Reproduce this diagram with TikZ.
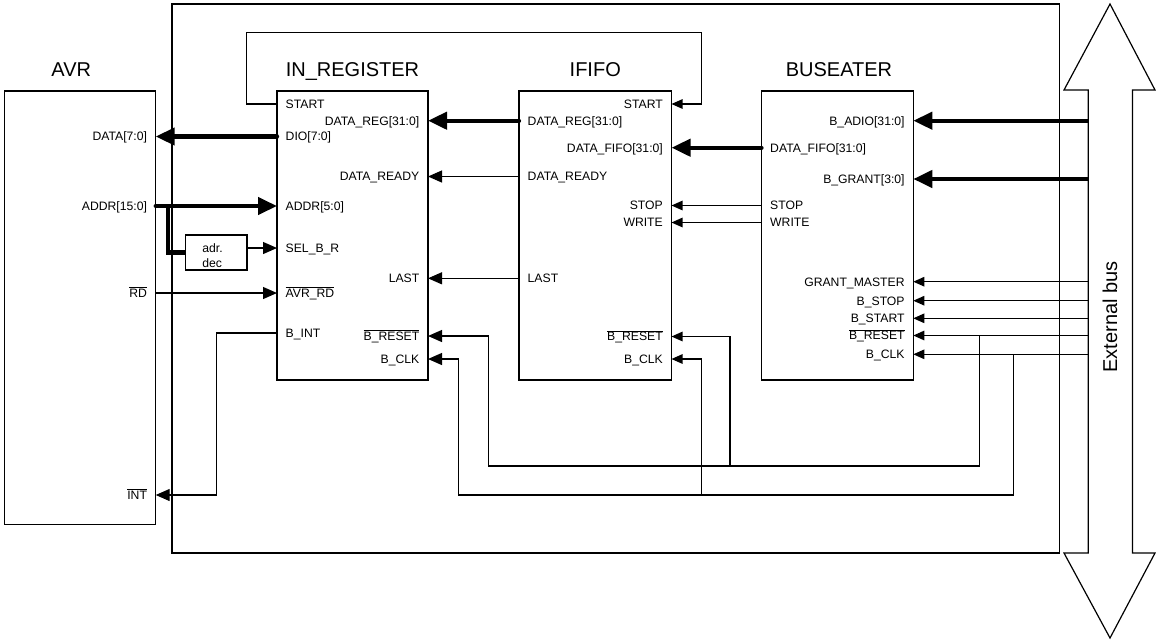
\documentclass[tikz,border=0pt]{standalone}
\usepackage{fontspec}
\setmainfont{Liberation Sans}
\usetikzlibrary{arrows.meta}
\newcommand\myovl[1]{$\overline{\mbox{#1}}$}
\begin{document}
\begin{tikzpicture}[x=1pt,y=-1pt,
  blk/.style={draw, line width=1.2pt, inner sep=0pt, outer sep=0pt},
  ttl/.style={font=\fontsize{20}{24}\selectfont, anchor=base, inner sep=0pt},
  pinbase/.style={font=\fontsize{12.2}{14}\selectfont, inner sep=0pt, text height=8.7pt, text depth=0pt},
  pl/.style={pinbase, anchor=west, xshift=8.5pt},
  pr/.style={pinbase, anchor=east, xshift=-8.5pt},
  wire/.style={line width=1.2pt},
  sa/.style={wire, -{Triangle[length=14pt,width=12pt]}},
  ss/.style={wire, -{Triangle[length=11pt,width=9.5pt]}},
  ba/.style={line width=4.2pt, line cap=round, -{Triangle[length=19pt,width=17pt]}},
  bb/.style={line width=4.2pt, -{Triangle[length=19pt,width=17pt]}},
  bl/.style={line width=4.2pt}
]
\useasboundingbox (0,0) rectangle (1156,641);

% boxes
\node[blk, minimum width=151pt, minimum height=433.3pt] (avr) at (80.2,307.65) {};
\node[blk, minimum width=887.5pt, minimum height=549pt] (outer) at (615.75,278.5) {};
\node[blk, minimum width=151pt, minimum height=289pt] (inreg) at (352.5,235.5) {};
\node[blk, minimum width=152.5pt, minimum height=289pt] (ififo) at (595.25,235.5) {};
\node[blk, minimum width=151.8pt, minimum height=289pt] (busea) at (837.4,235.5) {};
\node[blk, minimum width=61.3pt, minimum height=35pt] (adrdec) at (216.35,252.5) {};
\node[font=\fontsize{12.2}{14.5}\selectfont, align=left, inner sep=0pt] (adrtxt) at (212.5,255.5) {adr.\\dec};

% titles
\node[ttl] (tavr) at (71.3,76.7) {AVR};
\node[ttl] (tir) at (352.5,76.7) {IN\_REGISTER};
\node[ttl] (tif) at (595.25,76.7) {IFIFO};
\node[ttl] (tbe) at (839,76.7) {BUSEATER};

% external bus double arrow
\draw[line width=1.2pt, line join=miter] (1110,4) -- (1155,90) -- (1132.5,90) -- (1132.5,553) -- (1155,553)
  -- (1110,638) -- (1064,553) -- (1088.3,553) -- (1088.3,90) -- (1064,90) -- cycle;
\coordinate (shaftL) at (1088.3,0);
\node[rotate=90, font=\fontsize{20}{24}\selectfont, inner sep=0pt] (extlbl) at (1110,317) {External bus};

% pin coordinates
\coordinate (avr-data) at (avr.east |- 0,136.5);
\coordinate (avr-addr) at (avr.east |- 0,206);
\coordinate (avr-rd) at (avr.east |- 0,293);
\coordinate (avr-int) at (avr.east |- 0,495);

\coordinate (ir-start) at (inreg.west |- 0,104);
\coordinate (ir-dio) at (inreg.west |- 0,136.5);
\coordinate (ir-addr) at (inreg.west |- 0,206);
\coordinate (ir-sel) at (inreg.west |- 0,248);
\coordinate (ir-rd) at (inreg.west |- 0,293);
\coordinate (ir-bint) at (inreg.west |- 0,333);
\coordinate (ir-datareg) at (inreg.east |- 0,120.7);
\coordinate (ir-dready) at (inreg.east |- 0,176.5);
\coordinate (ir-last) at (inreg.east |- 0,278.3);
\coordinate (ir-reset) at (inreg.east |- 0,336);
\coordinate (ir-clk) at (inreg.east |- 0,359);

\coordinate (if-datareg) at (ififo.west |- 0,120.7);
\coordinate (if-dready) at (ififo.west |- 0,176.5);
\coordinate (if-last) at (ififo.west |- 0,278.3);
\coordinate (if-start) at (ififo.east |- 0,104);
\coordinate (if-dfifo) at (ififo.east |- 0,147.7);
\coordinate (if-stop) at (ififo.east |- 0,205.5);
\coordinate (if-write) at (ififo.east |- 0,222.5);
\coordinate (if-reset) at (ififo.east |- 0,336.5);
\coordinate (if-clk) at (ififo.east |- 0,359);

\coordinate (be-dfifo) at (busea.west |- 0,147.7);
\coordinate (be-stop) at (busea.west |- 0,205.5);
\coordinate (be-write) at (busea.west |- 0,222.5);
\coordinate (be-adio) at (busea.east |- 0,120.7);
\coordinate (be-grant) at (busea.east |- 0,179);
\coordinate (be-gm) at (busea.east |- 0,281.7);
\coordinate (be-bstop) at (busea.east |- 0,300.7);
\coordinate (be-bstart) at (busea.east |- 0,318.3);
\coordinate (be-reset) at (busea.east |- 0,335.5);
\coordinate (be-clk) at (busea.east |- 0,354.3);

% pin labels
\node[pr] (t-avr-data) at (avr-data) {DATA[7:0]};
\node[pr] (t-avr-addr) at (avr-addr) {ADDR[15:0]};
\node[pr] (t-avr-rd) at (avr-rd) {\myovl{RD}};
\node[pr] (t-avr-int) at (avr-int) {\myovl{INT}};

\node[pl] (t-ir-start) at (ir-start) {START};
\node[pl] (t-ir-dio) at (ir-dio) {DIO[7:0]};
\node[pl] (t-ir-addr) at (ir-addr) {ADDR[5:0]};
\node[pl] (t-ir-sel) at (ir-sel) {SEL\_B\_R};
\node[pl] (t-ir-rd) at (ir-rd) {\myovl{AVR\_RD}};
\node[pl] (t-ir-bint) at (ir-bint) {B\_INT};
\node[pr] (t-ir-datareg) at (ir-datareg) {DATA\_REG[31:0]};
\node[pr] (t-ir-dready) at (ir-dready) {DATA\_READY};
\node[pr] (t-ir-last) at (ir-last) {LAST};
\node[pr] (t-ir-reset) at (ir-reset) {\myovl{B\_RESET}};
\node[pr] (t-ir-clk) at (ir-clk) {B\_CLK};

\node[pl] (t-if-datareg) at (if-datareg) {DATA\_REG[31:0]};
\node[pl] (t-if-dready) at (if-dready) {DATA\_READY};
\node[pl] (t-if-last) at (if-last) {LAST};
\node[pr] (t-if-start) at (if-start) {START};
\node[pr] (t-if-dfifo) at (if-dfifo) {DATA\_FIFO[31:0]};
\node[pr] (t-if-stop) at (if-stop) {STOP};
\node[pr] (t-if-write) at (if-write) {WRITE};
\node[pr] (t-if-reset) at (if-reset) {\myovl{B\_RESET}};
\node[pr] (t-if-clk) at (if-clk) {B\_CLK};

\node[pl] (t-be-dfifo) at (be-dfifo) {DATA\_FIFO[31:0]};
\node[pl] (t-be-stop) at (be-stop) {STOP};
\node[pl] (t-be-write) at (be-write) {WRITE};
\node[pr] (t-be-adio) at (be-adio) {B\_ADIO[31:0]};
\node[pr] (t-be-grant) at (be-grant) {B\_GRANT[3:0]};
\node[pr] (t-be-gm) at (be-gm) {GRANT\_MASTER};
\node[pr] (t-be-bstop) at (be-bstop) {B\_STOP};
\node[pr] (t-be-bstart) at (be-bstart) {B\_START};
\node[pr] (t-be-reset) at (be-reset) {\myovl{B\_RESET}};
\node[pr] (t-be-clk) at (be-clk) {B\_CLK};

% bend points
\coordinate (startL) at (246.7,32.7);
\coordinate (startR) at (701.7,32.7);
\coordinate (addrtap) at (168,206);
\coordinate (intbend) at (216.7,495);
\coordinate (rstR) at (979.3,466);
\coordinate (rstL) at (488.3,466);
\coordinate (rstIF) at (730,466);
\coordinate (clkR) at (1013.3,495);
\coordinate (clkL) at (458.3,495);
\coordinate (clkIF) at (701.7,495);

% connectors
\draw[ss] (ir-start) -| (startL) -- (startR) |- (if-start);
\draw[ba] (if-datareg) -- (ir-datareg);
\draw[ba] (ir-dio) -- (avr-data);
\draw[ba] (avr-addr) -- (ir-addr);
\draw[bl] (addrtap) |- (adrdec.west);
\draw[sa] (adrdec.east |- ir-sel) -- (ir-sel);
\draw[sa] (avr-rd) -- (ir-rd);
\draw[sa] (ir-bint) -| (intbend) -- (avr-int);
\draw[sa] (if-dready) -- (ir-dready);
\draw[sa] (if-last) -- (ir-last);
\draw[ba] (be-dfifo) -- (if-dfifo);
\draw[ss] (be-stop) -- (if-stop);
\draw[ss] (be-write) -- (if-write);

\draw[bb] (shaftL |- be-adio) -- (be-adio);
\draw[bb] (shaftL |- be-grant) -- (be-grant);
\draw[ss] (shaftL |- be-gm) -- (be-gm);
\draw[ss] (shaftL |- be-bstop) -- (be-bstop);
\draw[ss] (shaftL |- be-bstart) -- (be-bstart);
\draw[ss] (shaftL |- be-reset) -- (be-reset);
\draw[ss] (shaftL |- be-clk) -- (be-clk);

\draw[sa] (be-reset -| rstR) -- (rstR) -- (rstL) |- (ir-reset);
\draw[ss] (rstIF) |- (if-reset);
\draw[sa] (be-clk -| clkR) -- (clkR) -- (clkL) |- (ir-clk);
\draw[ss] (clkIF) |- (if-clk);
\end{tikzpicture}
\end{document}
